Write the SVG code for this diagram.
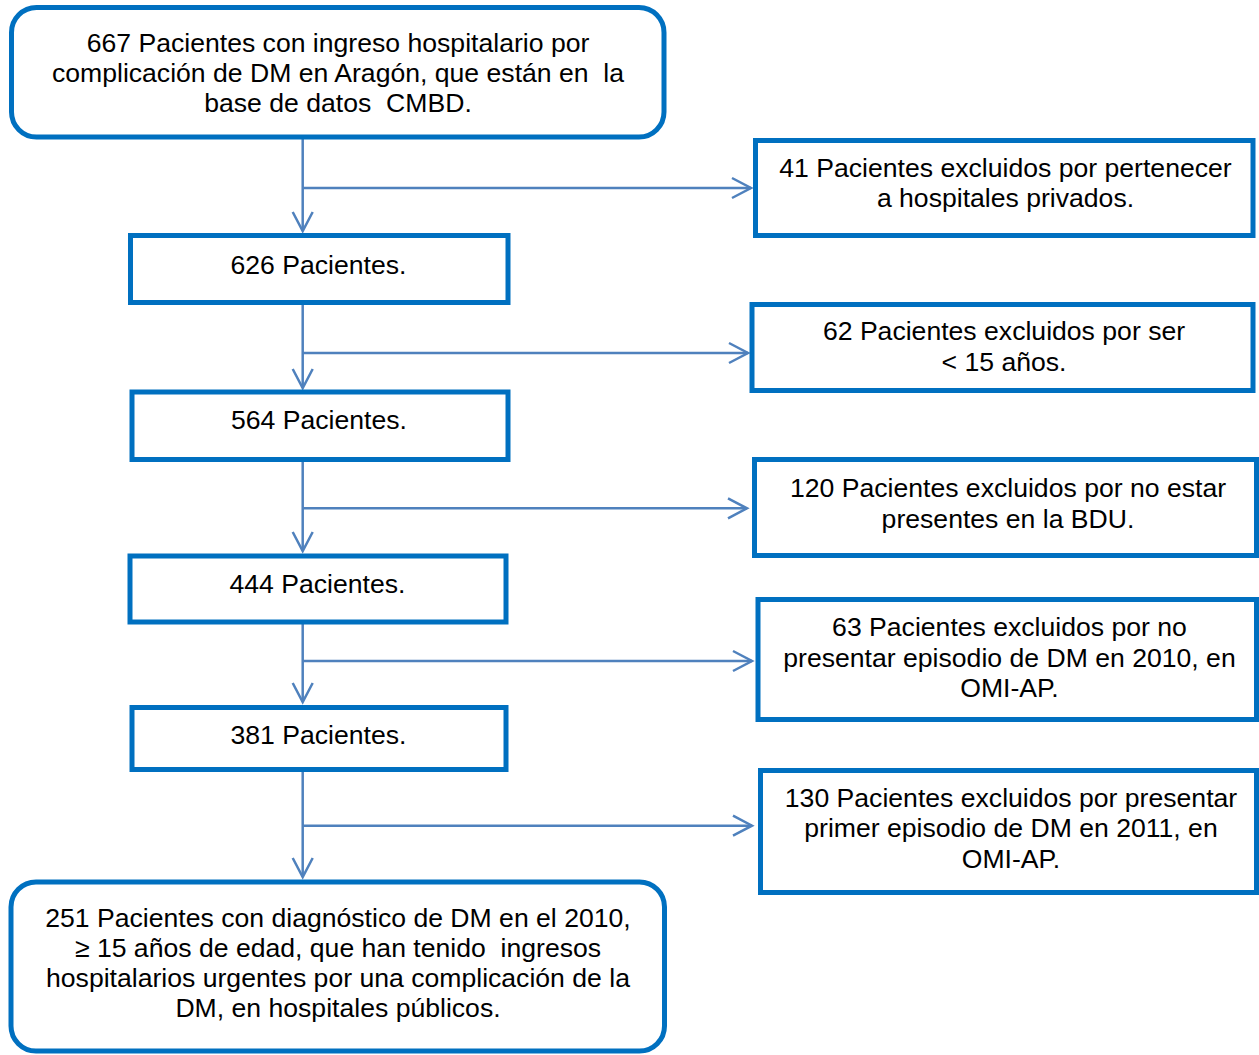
<svg xmlns="http://www.w3.org/2000/svg" width="1259" height="1055" viewBox="0 0 1259 1055">
<style>
.box{fill:#fff;stroke:#0070C0;stroke-width:5}
.conn{fill:none;stroke:#4F81BD;stroke-width:2.5}
text{font-family:"Liberation Sans",Arial,sans-serif;font-size:26.6px;fill:#000;text-anchor:middle}
</style>
<defs>
<marker id="arr" markerUnits="userSpaceOnUse" viewBox="-22 -13 26 26" markerWidth="26" markerHeight="26" refX="0" refY="0" orient="auto">
<path d="M-19,-10 L0,0 L-19,10" fill="none" stroke="#4F81BD" stroke-width="2.5"/>
</marker>
</defs>
<rect width="1259" height="1055" fill="#fff"/>
<g id="connectors" class="conn">
<path d="M302.7,137 V231" marker-end="url(#arr)"/>
<path d="M302.7,188 H751" marker-end="url(#arr)"/>
<path d="M302.7,302.5 V388" marker-end="url(#arr)"/>
<path d="M302.7,353 H748" marker-end="url(#arr)"/>
<path d="M302.7,459.5 V551" marker-end="url(#arr)"/>
<path d="M302.7,508.3 H747" marker-end="url(#arr)"/>
<path d="M302.7,622 V702" marker-end="url(#arr)"/>
<path d="M302.7,661 H752" marker-end="url(#arr)"/>
<path d="M302.7,769.5 V877" marker-end="url(#arr)"/>
<path d="M302.7,825.7 H752" marker-end="url(#arr)"/>
</g>
<g id="n667">
<rect class="box" x="11.5" y="7.5" width="652.5" height="129.5" rx="25"/>
<text xml:space="preserve" x="338" y="51.5">667 Pacientes con ingreso hospitalario por</text>
<text xml:space="preserve" x="338" y="81.5">complicación de DM en Aragón, que están en  la</text>
<text xml:space="preserve" x="338" y="111.5">base de datos  CMBD.</text>
</g>
<g id="n626">
<rect class="box" x="130.5" y="235.5" width="377.5" height="67"/>
<text x="318.5" y="274">626 Pacientes.</text>
</g>
<g id="n564">
<rect class="box" x="132" y="392" width="376" height="67.5"/>
<text x="319" y="428.5">564 Pacientes.</text>
</g>
<g id="n444">
<rect class="box" x="130" y="556" width="376" height="66"/>
<text x="317.5" y="593.3">444 Pacientes.</text>
</g>
<g id="n381">
<rect class="box" x="132" y="707.5" width="374" height="62"/>
<text x="318.5" y="744">381 Pacientes.</text>
</g>
<g id="n251">
<rect class="box" x="11" y="882" width="653.5" height="169" rx="25"/>
<text x="338" y="926.5">251 Pacientes con diagnóstico de DM en el 2010,</text>
<text xml:space="preserve" x="338" y="956.7">≥ 15 años de edad, que han tenido  ingresos</text>
<text x="338" y="986.7">hospitalarios urgentes por una complicación de la</text>
<text x="338" y="1016.7">DM, en hospitales públicos.</text>
</g>
<g id="ex41">
<rect class="box" x="755.5" y="140.5" width="497.5" height="95"/>
<text x="1005.5" y="177">41 Pacientes excluidos por pertenecer</text>
<text x="1005.5" y="207">a hospitales privados.</text>
</g>
<g id="ex62">
<rect class="box" x="752" y="304.5" width="501" height="86"/>
<text x="1004" y="340">62 Pacientes excluidos por ser</text>
<text x="1004" y="370.5">&lt; 15 años.</text>
</g>
<g id="ex120">
<rect class="box" x="754.5" y="459.5" width="502" height="96"/>
<text x="1008" y="497">120 Pacientes excluidos por no estar</text>
<text x="1008" y="527.5">presentes en la BDU.</text>
</g>
<g id="ex63">
<rect class="box" x="758" y="599.5" width="498.5" height="120"/>
<text x="1009.5" y="636">63 Pacientes excluidos por no</text>
<text x="1009.5" y="666.7">presentar episodio de DM en 2010, en</text>
<text x="1009.5" y="697.3">OMI-AP.</text>
</g>
<g id="ex130">
<rect class="box" x="760.5" y="770.5" width="496" height="122"/>
<text x="1011" y="806.7">130 Pacientes excluidos por presentar</text>
<text x="1011" y="837">primer episodio de DM en 2011, en</text>
<text x="1011" y="867.5">OMI-AP.</text>
</g>
</svg>
